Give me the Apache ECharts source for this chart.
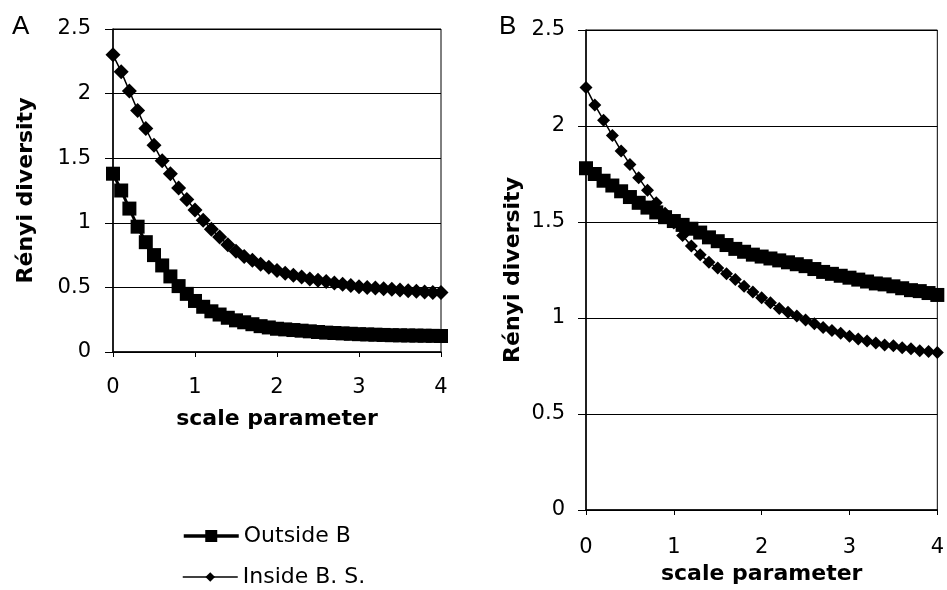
<!DOCTYPE html>
<html>
<head>
<meta charset="utf-8">
<script src="https://cdn.jsdelivr.net/npm/echarts@6/dist/echarts.min.js"></script>
<style>
html,body{margin:0;padding:0;background:#fff;}
#chart{width:947px;height:590px;}
</style>
</head>
<body>
<div id="chart"></div>
<script>
// scale parameter values (x)
const scaleParams = [0,0.1,0.2,0.3,0.4,0.5,0.6,0.7,0.8,0.9,1.0,1.1,1.2,1.3,1.4,1.5,1.6,1.7,1.8,1.9,2.0,
  2.1,2.2,2.3,2.4,2.5,2.6,2.7,2.8,2.9,3.0,3.1,3.2,3.3,3.4,3.5,3.6,3.7,3.8,3.9,4.0];

// Panel A
const outsideA = [1.38,1.25,1.11,0.97,0.85,0.75,0.67,0.585,0.51,0.45,0.395,0.35,0.315,0.29,0.265,0.245,0.23,0.215,0.2,0.19,0.18,
  0.175,0.17,0.165,0.16,0.155,0.15,0.147,0.144,0.141,0.138,0.136,0.134,0.132,0.13,0.129,0.128,0.127,0.126,0.125,0.124];
const insideA = [2.30,2.17,2.02,1.87,1.73,1.60,1.48,1.38,1.27,1.18,1.10,1.02,0.95,0.89,0.83,0.78,0.74,0.71,0.68,0.655,0.63,
  0.61,0.595,0.58,0.565,0.555,0.545,0.535,0.525,0.515,0.505,0.50,0.495,0.49,0.485,0.48,0.475,0.47,0.465,0.46,0.46];

// Panel B
const outsideB = [1.78,1.75,1.715,1.69,1.66,1.63,1.60,1.575,1.55,1.525,1.505,1.485,1.465,1.445,1.42,1.40,1.38,1.36,1.345,1.33,1.32,
  1.31,1.30,1.29,1.28,1.27,1.255,1.24,1.23,1.22,1.21,1.20,1.19,1.18,1.175,1.165,1.155,1.145,1.14,1.13,1.12];
const insideB = [2.20,2.11,2.03,1.95,1.87,1.80,1.73,1.665,1.60,1.545,1.495,1.43,1.375,1.33,1.29,1.26,1.23,1.20,1.165,1.135,1.105,
  1.08,1.05,1.03,1.01,0.99,0.97,0.95,0.935,0.92,0.905,0.89,0.88,0.87,0.86,0.855,0.845,0.84,0.83,0.825,0.82];

const seriesNames = ['Outside B', 'Inside B. S.'];
const panelLabels = ['A', 'B'];
const xTitle = 'scale parameter';
const yTitle = 'Rényi diversity';

function pairs(xs, ys){ return xs.map((x,i)=>[x, ys[i]]); }

const FONT = 'DejaVu Sans';
const tickLabel = {color:'#000', fontFamily:FONT, fontSize:21};

function xAxisFor(idx, labelMargin, nameGap){
  return {
    gridIndex: idx, type:'value', min:0, max:4, interval:1,
    name: xTitle, nameLocation:'middle', nameGap: nameGap,
    nameTextStyle:{color:'#000', fontFamily:FONT, fontSize:22, fontWeight:'bold'},
    axisLine:{show:true, onZero:false, lineStyle:{color:'#000', width:1.5}},
    axisTick:{show:true, inside:false, length:5, lineStyle:{color:'#000'}},
    axisLabel:Object.assign({margin:labelMargin}, tickLabel),
    splitLine:{show:false}
  };
}
function yAxisFor(idx, labelMargin, nameGap){
  return {
    gridIndex: idx, type:'value', min:0, max:2.5, interval:0.5,
    name: yTitle, nameLocation:'middle', nameGap: nameGap, nameRotate:90,
    nameTextStyle:{color:'#000', fontFamily:FONT, fontSize:22, fontWeight:'bold'},
    axisLine:{show:true, onZero:false, lineStyle:{color:'#000', width:1.5}},
    axisTick:{show:true, inside:false, length:8, lineStyle:{color:'#000'}},
    axisLabel:Object.assign({margin:labelMargin}, tickLabel),
    splitLine:{show:true, lineStyle:{color:'#000', width:1}}
  };
}

const chart = echarts.init(document.getElementById('chart'), null, {renderer:'canvas'});
chart.setOption({
  backgroundColor:'#fff',
  animation:false,
  title:[
    {text:panelLabels[0], left:12, top:14, padding:0, textStyle:{color:'#000', fontFamily:'Liberation Sans', fontSize:26, fontWeight:'normal'}},
    {text:panelLabels[1], left:499, top:14, padding:0, textStyle:{color:'#000', fontFamily:'Liberation Sans', fontSize:26, fontWeight:'normal'}}
  ],
  legend:[
    {data:[seriesNames[0]], orient:'vertical', left:182, top:525, padding:0, itemWidth:55, itemHeight:15,
     lineStyle:{width:3.5, color:'#000'},
     textStyle:{color:'#000', fontFamily:FONT, fontSize:22, lineHeight:22}, selectedMode:false},
    {data:[seriesNames[1]], orient:'vertical', left:182, top:566, padding:0, itemWidth:55, itemHeight:12,
     lineStyle:{width:1.5, color:'#000'},
     textStyle:{color:'#000', fontFamily:FONT, fontSize:22, lineHeight:22}, selectedMode:false}
  ],
  grid:[
    {left:113, top:29, width:328, height:323, show:true, borderColor:'#000', borderWidth:1, backgroundColor:'transparent'},
    {left:586, top:30, width:355, height:490, show:true, borderColor:'#000', borderWidth:1, backgroundColor:'transparent'}
  ],
  xAxis:[xAxisFor(0, 25, 56), xAxisFor(1, 27, 53)],
  yAxis:[yAxisFor(0, 22, 76), yAxisFor(1, 21, 62)],
  series:[
    {name:seriesNames[0], type:'line', xAxisIndex:0, yAxisIndex:0, data:pairs(scaleParams, outsideA),
     symbol:'rect', symbolSize:14, lineStyle:{color:'#000', width:3}, itemStyle:{color:'#000'}},
    {name:seriesNames[1], type:'line', xAxisIndex:0, yAxisIndex:0, data:pairs(scaleParams, insideA),
     symbol:'diamond', symbolSize:15, lineStyle:{color:'#000', width:1.5}, itemStyle:{color:'#000'}},
    {name:seriesNames[0], type:'line', xAxisIndex:1, yAxisIndex:1, data:pairs(scaleParams, outsideB),
     symbol:'rect', symbolSize:14, lineStyle:{color:'#000', width:3}, itemStyle:{color:'#000'}},
    {name:seriesNames[1], type:'line', xAxisIndex:1, yAxisIndex:1, data:pairs(scaleParams, insideB),
     symbol:'diamond', symbolSize:13, lineStyle:{color:'#000', width:1.5}, itemStyle:{color:'#000'}}
  ]
});
</script>
</body>
</html>
